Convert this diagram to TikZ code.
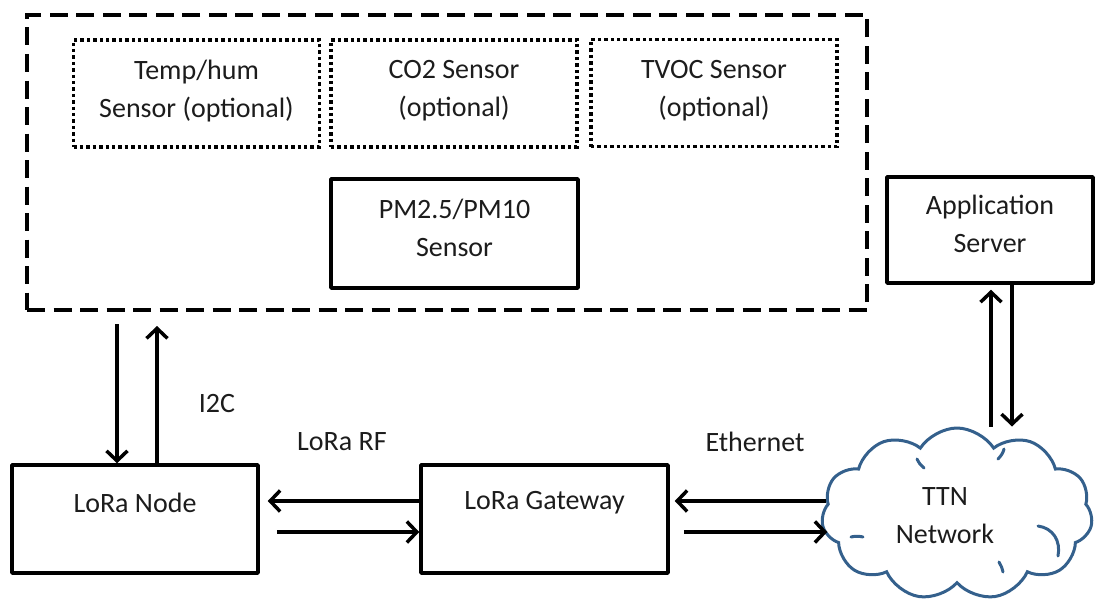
\documentclass[tikz,border=0pt]{standalone}
\usepackage{fontspec}
\setmainfont{Carlito}
\usetikzlibrary{arrows.meta,shapes.symbols}
\definecolor{ink}{RGB}{28,28,28}
\definecolor{cloudblue}{RGB}{52,96,140}

\begin{document}
\begin{tikzpicture}[x=1pt,y=-1pt,
  txt/.style={font=\fontsize{28}{38}\selectfont, text=ink, align=center},
  groupbox/.style={draw, line width=4pt, dash pattern=on 18pt off 8.5pt, inner sep=0pt},
  optbox/.style={draw, line width=3.5pt, dash pattern=on 3.4pt off 3pt, inner sep=0pt,
    minimum width=246, minimum height=107, txt},
  solidbox/.style={draw, line width=3.5pt, line join=round, inner sep=0pt, txt},
  arr/.style={line width=3.5pt, -{Straight Barb[length=10pt,width=21pt]}},
  lbl/.style={txt, inner sep=0pt},
  puffline/.style={draw=cloudblue, line width=3pt, line cap=round}
]
\useasboundingbox (0,0) rectangle (1096,605);

% sensor enclosure
\node[groupbox, minimum width=840, minimum height=295] (grp) at (447,162.5) {};
\node[optbox, text depth=10pt] (th)   at (196.5,93.5) {Temp/hum\\Sensor (optional)};
\node[optbox, text depth=10pt] (co2)  at (454,93.5)   {CO2 Sensor\\(optional)};
\node[optbox, text depth=10pt] (tvoc) at (714,93)     {TVOC Sensor\\(optional)};
\node[solidbox, minimum width=247, minimum height=109, text depth=12pt] (pm) at (454.5,233.5) {PM2.5/PM10\\Sensor};

% application server
\node[solidbox, minimum width=206, minimum height=106, text depth=12pt] (app) at (990,230) {Application\\Server};

% LoRa node and gateway
\node[solidbox, minimum width=246, minimum height=108,
  label={[lbl, yshift=16pt]center:LoRa Node}] (lnode) at (135,519) {};
\node[solidbox, minimum width=247, minimum height=108,
  label={[lbl, yshift=16pt]center:LoRa Gateway}] (gw) at (544.5,519) {};

% TTN cloud
\node[cloud, cloud puffs=11, cloud puff arc=115, cloud ignores aspect,
  draw=cloudblue, line width=3pt, inner sep=0pt,
  minimum width=271, minimum height=172] (ttn) at (957,514) {};
% inner puff curls
\draw[puffline] (1038,526) .. controls (1053,528) and (1061,541) .. (1058,556);
\draw[puffline] (917,459) .. controls (919,463) and (921,466) .. (924,468);
\draw[puffline] (1004,449) .. controls (1003,453) and (1001,456) .. (998,459);
\draw[puffline] (851,537) .. controls (855,536) and (859,536) .. (863,537);
\draw[puffline] (1003,572) .. controls (1002,568) and (1001,565) .. (999,562);
\node[lbl] (ttnlbl) at (945,516) {TTN\\Network};

% I2C link
\draw[arr] ([xshift=-18pt]lnode.north |- grp.south) ++(0,12) -- ([xshift=-18pt]lnode.north);
\draw[arr] ([xshift=22pt]lnode.north) -- ([xshift=22pt,yshift=-14pt]lnode.north |- grp.south);
\node[lbl] (i2c) at (217,404) {I2C};

% LoRa RF link
\draw[arr] ([yshift=18pt]gw.west) -- ([xshift=8pt,yshift=18pt]lnode.east);
\draw[arr] ([xshift=17pt,yshift=-13pt]lnode.east) -- ([yshift=-13pt]gw.west);
\node[lbl] (rf) at (342,442) {LoRa RF};

% Ethernet link
\draw[arr] ([xshift=5pt,yshift=18pt]gw.east -| ttn.west) -- ([xshift=5pt,yshift=18pt]gw.east);
\draw[arr] ([xshift=14pt,yshift=-13pt]gw.east) -- ([xshift=6pt,yshift=-13pt]gw.east -| ttn.west);
\node[lbl] (eth) at (755,442) {Ethernet};

% TTN <-> application server
\draw[arr] ([xshift=1pt]app.south |- ttn.north) -- ([xshift=1pt,yshift=-5pt]app.south);
\draw[arr] ([xshift=22pt]app.south) -- ([xshift=22pt]app.south |- ttn.north);
\end{tikzpicture}
\end{document}
